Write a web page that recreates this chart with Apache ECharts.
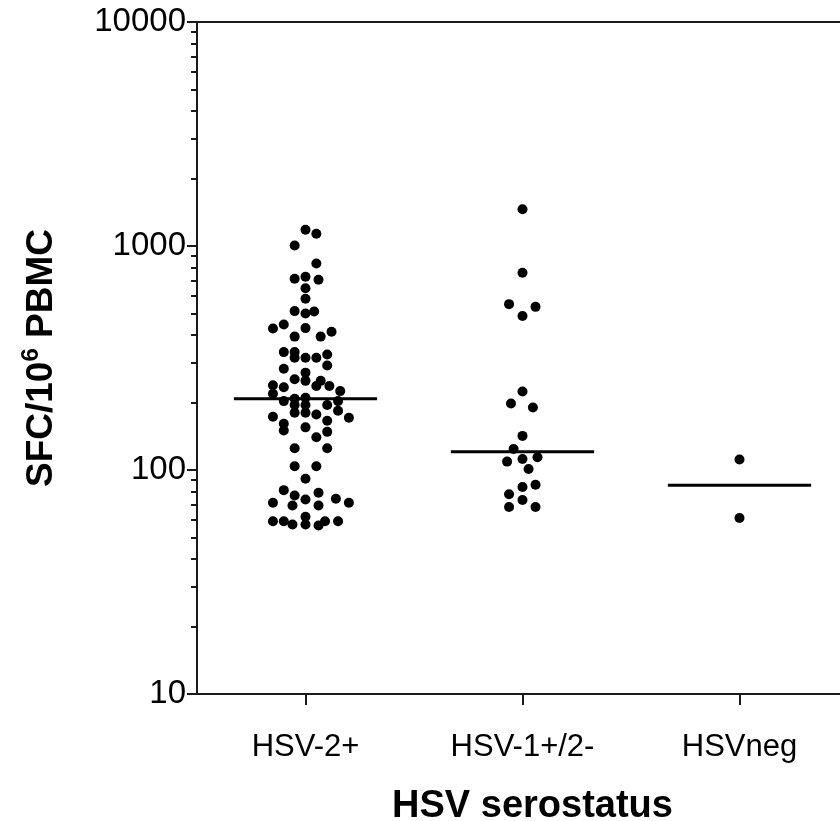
<!DOCTYPE html>
<html>
<head>
<meta charset="utf-8">
<script src="https://cdn.jsdelivr.net/npm/echarts@6/dist/echarts.min.js"></script>
<style>
  html, body { margin: 0; padding: 0; background: #fff; }
  #chart { width: 840px; height: 821px; }
</style>
</head>
<body>
<div id="chart"></div>
<script>
// groups on the x axis
var categories = ['HSV-2+', 'HSV-1+/2-', 'HSVneg'];

// SFC per 10^6 PBMC; jitter = horizontal offset in category units
var hsv2Values = [1181, 1134, 1005, 835, 729, 714, 707, 648, 581, 512, 500, 510,
    428, 446, 430, 394, 394, 414,
    336, 336, 317, 317, 317, 328, 293, 283, 272, 254, 250, 250, 237, 239, 234, 237, 225,
    219, 203, 208, 210, 195, 195, 195, 203, 180, 180, 177, 184, 171, 173, 166, 161,
    150, 155, 148, 140, 125, 125, 104, 104, 91.4, 81.3, 76.9, 79.1, 73.8, 74.4, 71.4, 71.4,
    69.4, 69.4, 61.8, 59.1, 59.1, 57.1, 57.1, 56.5, 59.1, 59.1];
var hsv2Jitter = [0, 0.05, -0.05, 0.05, 0, -0.05, 0.06, 0, 0, -0.05, 0, 0.04,
    -0.15, -0.1, 0, -0.05, 0.07, 0.12,
    -0.1, -0.05, -0.05, 0, 0.05, 0.1, 0.1, -0.1, 0, -0.05, 0, 0.07, 0.05, -0.15, -0.1, 0.11, 0.16,
    -0.15, -0.1, -0.05, 0, -0.05, 0, 0.1, 0.15, -0.05, 0, 0.05, 0.15, 0.2, -0.15, 0.1, -0.1,
    -0.1, 0, 0.1, 0.05, -0.05, 0.1, -0.05, 0.05, 0, -0.1, -0.05, 0.06, 0, 0.14, 0.2, -0.15,
    -0.06, 0.06, 0, -0.15, -0.1, -0.06, 0, 0.06, 0.09, 0.15];

var hsv1Values = [1458, 760, 550, 535, 487, 224, 198, 190, 142, 124, 109, 112, 114, 101,
    86, 84, 78, 73.5, 68.4, 68.4];
var hsv1Jitter = [0, 0, -0.062, 0.06, 0, 0, -0.053, 0.048, 0, -0.041, -0.071, 0, 0.069, 0.028,
    0.06, 0, -0.062, 0, -0.062, 0.06];

var negValues = [111.4, 61.0];
var negJitter = [0, 0];

var medians = [208, 120.5, 85.5];
var medianHalfWidth = 0.33;

var yLabels = [10, 100, 1000, 10000];
var yMinorTicks = [20, 30, 40, 50, 60, 70, 80, 90, 200, 300, 400, 500, 600, 700, 800, 900,
    2000, 3000, 4000, 5000, 6000, 7000, 8000, 9000];

var groups = [
    { values: hsv2Values, jitter: hsv2Jitter },
    { values: hsv1Values, jitter: hsv1Jitter },
    { values: negValues, jitter: negJitter }
];

var points = [];
groups.forEach(function (g, i) {
    g.values.forEach(function (v, k) {
        points.push([i + 1 + g.jitter[k], v]);
    });
});

var medianSeries = medians.map(function (m, i) {
    return {
        type: 'line',
        data: [[i + 1 - medianHalfWidth, m], [i + 1 + medianHalfWidth, m]],
        symbol: 'none',
        silent: true,
        lineStyle: { color: '#000', width: 3 },
        z: 3
    };
});

var font = 'Liberation Sans, Arial, Helvetica, sans-serif';
var axisColor = '#1a1a1a';

var chartDom = document.getElementById('chart');
var myChart = echarts.init(chartDom);
var option = {
    animation: false,
    backgroundColor: '#fff',
    grid: { left: 197, top: 22, width: 651, height: 672, outerBoundsMode: 'none', containLabel: false },
    xAxis: [
        {
            type: 'value',
            min: 0.5,
            max: 3.5,
            splitLine: { show: false },
            axisLine: { lineStyle: { color: axisColor, width: 2 } },
            axisTick: { show: true, length: 11, customValues: [1, 2, 3], lineStyle: { color: axisColor, width: 2 } },
            axisLabel: {
                customValues: [1, 2, 3],
                formatter: function (v) { return categories[Math.round(v) - 1]; },
                color: '#000',
                fontFamily: font,
                fontSize: 31,
                margin: 38
            },
            name: 'HSV serostatus',
            nameLocation: 'middle',
            nameGap: 94,
            nameTextStyle: { color: '#000', fontFamily: font, fontSize: 38, fontWeight: 'bold', padding: [0, 0, 0, 20] }
        },
        {
            type: 'value',
            position: 'top',
            min: 0.5,
            max: 3.5,
            splitLine: { show: false },
            axisLine: { lineStyle: { color: axisColor, width: 2 } },
            axisTick: { show: false },
            axisLabel: { show: false }
        }
    ],
    yAxis: [
        {
            type: 'log',
            logBase: 10,
            min: 10,
            max: 10000,
            splitLine: { show: false },
            axisLine: { lineStyle: { color: axisColor, width: 2 } },
            axisTick: { length: 10, customValues: yLabels, lineStyle: { color: axisColor, width: 2 } },
            axisLabel: {
                customValues: yLabels,
                formatter: function (v) { return String(Math.round(v)); },
                color: '#000',
                fontFamily: font,
                fontSize: 33,
                margin: 11
            },
            name: '{a|SFC/10}{sup|6}{a| PBMC}',
            nameLocation: 'middle',
            nameGap: 132,
            nameTextStyle: {
                rich: {
                    a: { fontFamily: font, fontSize: 37, fontWeight: 'bold', color: '#000' },
                    sup: { fontFamily: font, fontSize: 24, fontWeight: 'bold', color: '#000', padding: [0, 0, 22, 0] }
                }
            }
        },
        {
            type: 'log',
            logBase: 10,
            min: 10,
            max: 10000,
            position: 'left',
            splitLine: { show: false },
            axisLine: { show: false },
            axisTick: { length: 6, customValues: yMinorTicks, lineStyle: { color: axisColor, width: 2 } },
            axisLabel: { show: false }
        }
    ],
    series: [
        {
            type: 'scatter',
            data: points,
            symbol: 'circle',
            symbolSize: 10,
            itemStyle: { color: '#000', opacity: 1 },
            z: 4
        }
    ].concat(medianSeries)
};

option && myChart.setOption(option);
</script>
</body>
</html>
